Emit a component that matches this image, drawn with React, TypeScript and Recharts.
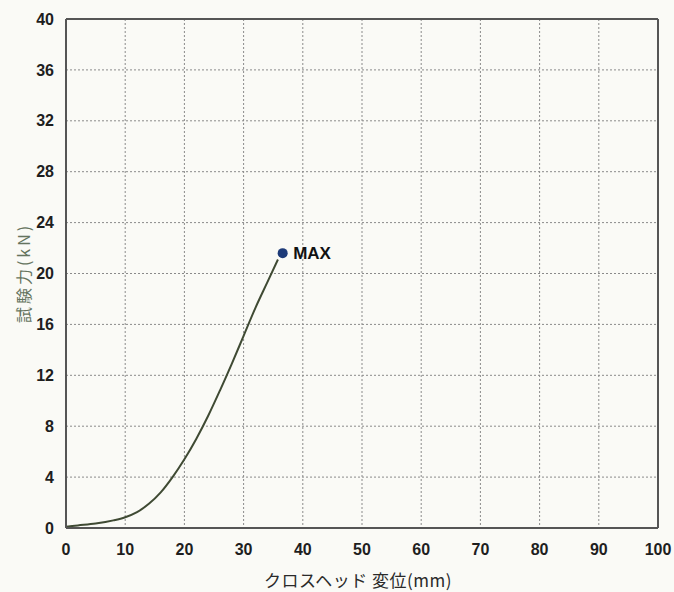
import React from 'react';
import {
  ComposedChart, Line, Scatter, XAxis, YAxis, CartesianGrid, ReferenceLine, LabelList,
} from 'recharts';

const displacement = [0, 2, 5, 8, 10, 12, 14, 16, 18, 20, 22, 24, 26, 28, 30, 32, 34, 35.8];
const force = [0.1, 0.2, 0.35, 0.6, 0.85, 1.25, 1.9, 2.8, 4.0, 5.4, 7.0, 8.8, 10.8, 12.9, 15.1, 17.3, 19.3, 21.1];
const maxPoint = [{ x: 36.6, y: 21.6, label: 'MAX' }];
const xTicks = [0, 10, 20, 30, 40, 50, 60, 70, 80, 90, 100];
const yTicks = [0, 4, 8, 12, 16, 20, 24, 28, 32, 36, 40];
const xLabel = 'クロスヘッド 変位(mm)';
const yLabel = '試験力(kN)';

const curve = displacement.map((x, i) => ({ x, y: force[i] }));

const tickStyle = { fontFamily: 'Liberation Sans, Arial, sans-serif', fontSize: 16, fontWeight: 'bold', fill: '#1e1e1e' };

export default function App() {
  return (
    <div style={{ position: 'absolute', left: 0, top: 0, width: 674, height: 592, background: '#fafaf6' }}>
      <ComposedChart width={674} height={592} margin={{ top: 19, right: 16, bottom: 0, left: 0 }}>
        <CartesianGrid stroke="#8a8a8a" strokeDasharray="2 2" strokeWidth={1} />
        <XAxis
          type="number" dataKey="x" domain={[0, 100]} ticks={xTicks} interval={0}
          axisLine={{ stroke: '#555', strokeWidth: 2 }} tickLine={false} tick={tickStyle} tickMargin={10}
          height={64} allowDataOverflow
          label={{
            content: () => (
              <text x={358} y={579} textAnchor="middle" dominantBaseline="central"
                style={{ fontFamily: 'Noto Sans CJK JP, sans-serif', fontSize: 17, letterSpacing: 0.5, fill: '#2a2a2a' }}>
                {xLabel}
              </text>
            ),
          }}
        />
        <YAxis
          type="number" dataKey="y" domain={[0, 40]} ticks={yTicks} interval={0}
          axisLine={{ stroke: '#555', strokeWidth: 2 }} tickLine={false} tick={tickStyle} tickMargin={6}
          width={66} allowDataOverflow
          label={{
            content: () => (
              <text x={23} y={273} transform="rotate(-90,23,273)" textAnchor="middle" dominantBaseline="central"
                style={{ fontFamily: 'Noto Sans CJK JP, sans-serif', fontSize: 16, letterSpacing: 3, fill: '#65745e' }}>
                {yLabel}
              </text>
            ),
          }}
        />
        <ReferenceLine y={40} stroke="#555" strokeWidth={2} />
        <ReferenceLine x={100} stroke="#555" strokeWidth={2} />
        <Line data={curve} dataKey="y" type="monotone" stroke="#3f4a33" strokeWidth={2} dot={false} isAnimationActive={false} />
        <Scatter data={maxPoint} dataKey="y" fill="#1d3a78" isAnimationActive={false}
          shape={(p: any) => <circle cx={p.cx} cy={p.cy} r={5} fill="#1d3a78" />}>
          <LabelList dataKey="label" position="right" offset={6}
            style={{ fontFamily: 'Liberation Sans, Arial, sans-serif', fontSize: 17, fontWeight: 'bold', fill: '#111' }} />
        </Scatter>
      </ComposedChart>
    </div>
  );
}
